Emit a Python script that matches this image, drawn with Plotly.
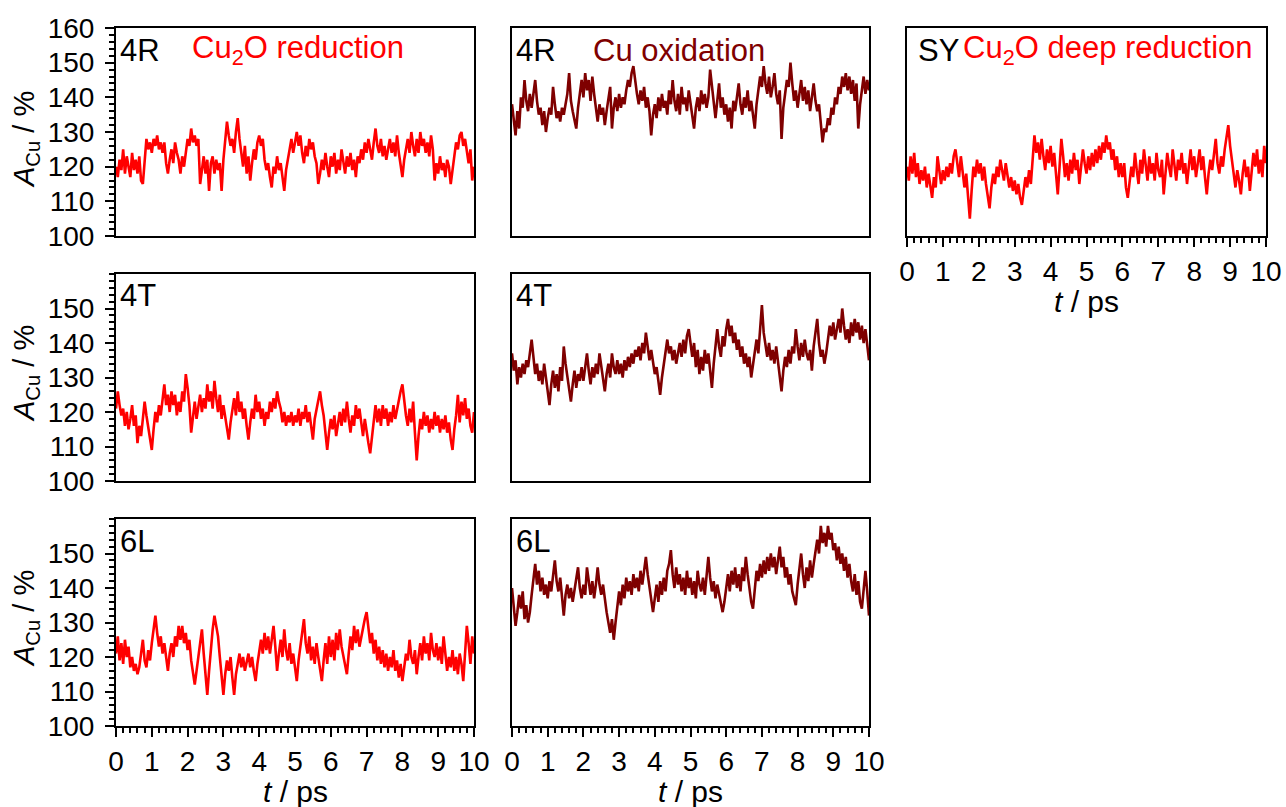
import plotly.graph_objects as go

# ---------------- data (A_Cu in %, sampled every 0.05 ps from 0 to 10 ps) ----------------
T_STEP = 0.05

cu2o_red_4R = [
    120,117,122,119,125,118,123,120,117,124,119,122,118,123,116,115,122,128,125,127,
    124,128,126,129,125,127,124,127,121,118,122,125,121,127,124,122,118,123,120,125,
    128,126,131,127,129,126,128,115,120,123,118,122,113,121,123,118,122,119,121,113,
    122,128,133,129,126,128,124,130,134,128,124,120,126,118,123,116,121,125,122,127,
    129,126,128,122,119,121,117,114,120,118,123,119,121,116,113,119,122,125,128,124,
    127,130,126,129,124,121,126,123,128,125,127,123,121,115,118,122,119,124,120,117,
    123,120,124,118,122,119,125,121,118,123,120,124,119,122,117,123,121,125,122,127,
    124,128,125,122,127,131,126,124,128,123,126,122,125,128,124,127,123,129,124,120,
    117,122,125,128,124,130,126,123,128,124,130,126,128,124,127,123,129,125,116,121,
    118,123,119,121,117,122,120,115,119,124,127,125,129,130,126,128,124,121,125,116,
    120]

cu_ox_4R = [
    138,133,129,136,131,140,137,145,139,136,141,137,142,145,139,135,137,132,136,130,
    134,137,135,143,138,134,136,133,137,135,138,141,147,139,136,133,131,137,141,145,
    140,147,142,145,139,146,141,137,133,138,135,137,132,136,139,143,131,137,140,136,
    141,137,140,138,142,145,143,147,149,144,141,138,142,139,143,137,140,136,129,135,
    138,134,140,136,141,137,139,135,142,138,145,139,136,141,135,143,138,140,136,142,
    138,135,131,137,140,136,142,138,141,137,140,148,143,138,134,139,144,137,140,135,
    138,133,137,131,139,136,141,144,138,135,140,137,142,136,139,134,131,138,142,146,
    143,149,144,141,146,140,143,147,141,138,142,128,137,141,145,143,150,144,139,142,
    137,141,145,139,143,138,142,136,140,144,139,136,138,133,127,131,130,134,132,137,
    135,140,138,143,141,146,143,147,142,146,141,145,139,144,131,138,142,146,141,145,
    142]

cu2o_deep_SY = [
    120,116,123,118,124,117,121,115,119,116,120,114,118,115,111,117,114,123,118,115,
    119,116,120,117,121,118,123,125,121,117,123,119,114,118,110,105,113,120,117,122,
    118,121,116,120,115,111,108,114,118,115,120,117,122,119,116,121,118,114,117,113,
    116,112,115,111,109,113,117,114,119,115,121,129,124,127,122,128,123,119,125,121,
    126,120,124,118,112,120,128,123,117,121,116,122,118,124,119,122,115,120,125,121,
    118,123,119,124,120,125,121,126,122,127,124,129,125,127,122,125,119,123,117,121,
    117,121,114,111,116,120,117,124,119,115,122,118,125,120,116,123,118,121,116,124,
    119,117,122,112,118,124,120,117,125,121,116,122,119,124,118,121,115,120,125,119,
    123,117,121,125,119,123,117,112,118,122,119,124,128,121,118,123,120,125,128,132,
    126,121,118,114,119,116,112,118,122,117,120,113,119,124,120,125,118,122,117,126,
    121]

cu2o_red_4T = [
    121,126,122,119,121,116,120,115,118,122,116,119,111,116,113,118,123,119,116,113,
    109,115,120,117,122,119,123,128,122,125,120,126,122,125,119,123,120,126,123,131,
    127,122,114,119,123,118,122,125,120,124,121,128,123,126,121,129,124,120,125,118,
    122,119,116,112,117,121,124,119,126,120,123,118,121,116,112,117,121,118,125,120,
    123,118,121,116,120,118,123,120,124,121,126,123,121,117,120,116,119,117,120,116,
    119,117,121,116,120,118,122,117,120,116,112,118,121,124,126,122,119,114,109,114,
    118,115,119,113,117,120,116,121,117,123,118,114,119,116,122,118,121,116,113,118,
    114,111,108,113,118,122,117,121,116,122,118,121,116,120,117,122,118,121,124,126,
    128,123,119,116,121,117,123,114,106,113,118,115,120,116,119,114,118,115,120,116,
    119,114,118,115,119,114,117,112,109,115,119,125,117,123,119,124,118,121,116,114,
    120]

cu_ox_4T = [
    137,132,135,128,133,130,134,131,135,133,137,141,136,131,134,129,132,128,134,130,
    126,122,128,132,127,131,126,133,129,139,134,130,127,123,128,132,127,131,129,133,
    129,133,137,132,128,133,130,134,131,137,133,129,126,131,134,130,137,133,131,135,
    131,134,130,135,132,136,133,137,134,138,136,139,135,140,137,143,138,135,138,134,
    131,133,128,125,130,134,138,141,137,139,135,138,134,137,140,136,141,137,142,144,
    139,136,140,133,138,131,136,132,138,134,137,131,127,134,140,144,139,136,142,139,
    144,147,142,145,140,143,138,141,136,139,134,137,133,136,130,134,138,141,137,144,
    151,143,139,136,140,135,138,134,139,135,131,126,132,136,133,138,134,139,137,144,
    139,135,140,136,141,137,135,138,132,139,143,147,140,136,138,134,137,141,145,142,
    146,141,144,147,143,150,145,141,144,140,146,142,147,143,146,141,145,140,144,139,
    135]

cu2o_red_6L = [
    121,126,119,124,118,125,120,123,117,120,116,118,115,117,121,125,119,117,122,119,
    124,128,132,127,123,126,121,124,119,116,121,124,120,126,123,129,125,129,124,127,
    122,125,119,116,112,116,120,124,128,121,114,109,116,123,128,132,129,126,120,114,
    109,115,119,116,120,114,109,115,118,121,117,120,116,119,121,117,120,116,113,118,
    121,125,121,127,122,126,121,125,129,123,116,121,125,120,128,122,119,124,118,121,
    117,113,119,124,127,131,124,121,126,119,123,118,124,120,116,113,119,124,118,126,
    120,125,119,127,122,128,123,120,118,115,121,126,122,129,124,128,123,126,129,131,
    133,128,124,127,121,125,119,123,118,122,117,121,116,120,117,122,116,119,114,118,
    113,117,121,119,125,120,118,122,115,120,124,119,126,121,124,119,127,122,120,124,
    119,123,118,126,121,116,120,117,122,116,120,115,121,118,113,120,129,124,118,126,
    121]

cu_ox_6L = [
    140,134,129,133,138,134,139,131,135,130,133,138,142,147,141,145,139,143,138,141,
    137,142,139,144,148,142,139,143,137,132,138,141,137,140,136,139,142,146,140,137,
    141,138,146,141,138,142,137,141,146,141,138,141,136,133,130,127,131,125,130,135,
    139,135,141,137,143,139,142,138,144,140,143,139,145,141,146,149,144,140,136,133,
    137,141,136,142,138,143,139,145,147,151,144,140,146,141,144,139,143,138,145,140,
    143,138,142,137,145,141,139,143,138,144,149,143,139,142,137,141,138,136,133,136,
    140,144,139,145,141,146,140,144,139,146,142,149,144,140,136,134,139,145,142,147,
    143,148,144,149,145,150,146,149,144,148,152,146,149,143,146,141,144,139,137,135,
    141,146,150,144,140,146,142,148,143,147,151,154,150,158,153,156,152,158,154,156,
    151,153,148,152,147,150,145,149,143,147,142,139,144,138,142,136,134,140,145,139,
    132]

site_tags = ["4R", "4R", "SY", "4T", "4T", "6L", "6L"]
process_labels = ["Cu<sub>2</sub>O reduction", "Cu oxidation", "Cu<sub>2</sub>O deep reduction"]
x_tick_vals = [0, 1, 2, 3, 4, 5, 6, 7, 8, 9, 10]
y_ticks_row1 = [100, 110, 120, 130, 140, 150, 160]
y_ticks_rows23 = [100, 110, 120, 130, 140, 150]

# ---------------- styling / layout constants ----------------
W, H = 1286, 807
FONT = "Liberation Sans, Arial, Helvetica, sans-serif"
RED = "#FF0000"
DARK = "#7F0000"
COLS = [(116, 474), (512, 869), (907, 1266)]
ROWS = [(28, 236), (274, 481), (519, 726)]
TICK_FONT = 28
ANN_FONT = 31

# panel: (row, col, series, color, tag, show x ticks, y tick values or None)
panels = [
    (0, 0, cu2o_red_4R, RED, site_tags[0], False, y_ticks_row1),
    (0, 1, cu_ox_4R, DARK, site_tags[1], False, None),
    (0, 2, cu2o_deep_SY, RED, site_tags[2], True, None),
    (1, 0, cu2o_red_4T, RED, site_tags[3], False, y_ticks_rows23),
    (1, 1, cu_ox_4T, DARK, site_tags[4], False, None),
    (2, 0, cu2o_red_6L, RED, site_tags[5], True, y_ticks_rows23),
    (2, 1, cu_ox_6L, DARK, site_tags[6], True, None),
]

fig = go.Figure()
layout = dict(
    width=W, height=H, margin=dict(l=0, r=0, t=0, b=0),
    paper_bgcolor="white", plot_bgcolor="white",
    showlegend=False, font=dict(family=FONT, color="black", size=TICK_FONT),
)
annotations = []


def px_x(p):
    return p / W


def px_y(p):
    return 1 - p / H


for i, (r, c, series, color, tag, show_x, yticks) in enumerate(panels, start=1):
    t = [k * T_STEP for k in range(len(series))]
    xa = "x" if i == 1 else f"x{i}"
    ya = "y" if i == 1 else f"y{i}"
    fig.add_trace(go.Scatter(x=t, y=series, mode="lines", xaxis=xa, yaxis=ya,
                             line=dict(color=color, width=2.6), hoverinfo="skip"))
    x0, x1 = COLS[c]
    y0, y1 = ROWS[r]
    xaxis = dict(
        domain=[px_x(x0), px_x(x1)], range=[0, 10], anchor=ya,
        showline=True, mirror=True, linecolor="black", linewidth=2,
        showgrid=False, zeroline=False, fixedrange=True, automargin=False,
    )
    if show_x:
        xaxis.update(
            tickmode="array", tickvals=x_tick_vals, ticktext=[str(v) for v in x_tick_vals],
            ticks="outside", ticklen=9, tickwidth=2, tickcolor="black",
            tickfont=dict(size=TICK_FONT, family=FONT, color="black"),
            minor=dict(ticks="outside", ticklen=5, tickwidth=2, tickcolor="black",
                       tickmode="linear", tick0=0, dtick=0.2, showgrid=False),
        )
    else:
        xaxis.update(showticklabels=False, ticks="")
    yaxis = dict(
        domain=[px_y(y1), px_y(y0)], range=[100, 160], anchor=xa,
        showline=True, mirror=True, linecolor="black", linewidth=2,
        showgrid=False, zeroline=False, fixedrange=True, automargin=False,
    )
    if yticks is not None:
        yaxis.update(
            tickmode="array", tickvals=yticks, ticktext=[str(v) for v in yticks],
            ticks="outside", ticklen=9, tickwidth=2, tickcolor="black",
            tickfont=dict(size=TICK_FONT, family=FONT, color="black"),
            ticklabelstandoff=5,
            minor=dict(ticks="outside", ticklen=5, tickwidth=2, tickcolor="black",
                       tickmode="linear", tick0=100, dtick=2, showgrid=False),
        )
    else:
        yaxis.update(showticklabels=False, ticks="")
    layout["xaxis" if i == 1 else f"xaxis{i}"] = xaxis
    layout["yaxis" if i == 1 else f"yaxis{i}"] = yaxis

    # site tag in top-left corner
    tag_x = x0 + 2 if c != 2 else x0 + 9
    annotations.append(dict(text=tag, x=px_x(tag_x), y=px_y(y0 + 22), xref="paper", yref="paper",
                            xanchor="left", yanchor="middle", showarrow=False,
                            font=dict(size=ANN_FONT, family=FONT, color="black")))

# process labels (top row)
for label, left, color in [(process_labels[0], 190, RED), (process_labels[1], 591, DARK),
                           (process_labels[2], 961, RED)]:
    annotations.append(dict(text=label, x=px_x(left), y=px_y(50), xref="paper", yref="paper",
                            xanchor="left", yanchor="middle", showarrow=False,
                            font=dict(size=ANN_FONT, family=FONT, color=color)))

# axis titles
for cx, cy in [(295, 791), (690, 791), (1086, 301)]:
    annotations.append(dict(text="<i>t</i> / ps", x=px_x(cx), y=px_y(cy), xref="paper", yref="paper",
                            xanchor="center", yanchor="middle", showarrow=False,
                            font=dict(size=30, family=FONT, color="black")))
for cy in [140, 374, 619]:
    annotations.append(dict(text="<i>A</i><sub>Cu</sub> / %", x=px_x(26), y=px_y(cy),
                            xref="paper", yref="paper", textangle=-90,
                            xanchor="center", yanchor="middle", showarrow=False,
                            font=dict(size=29, family=FONT, color="black")))

layout["annotations"] = annotations
fig.update_layout(**layout)
fig.write_html("out.html")
